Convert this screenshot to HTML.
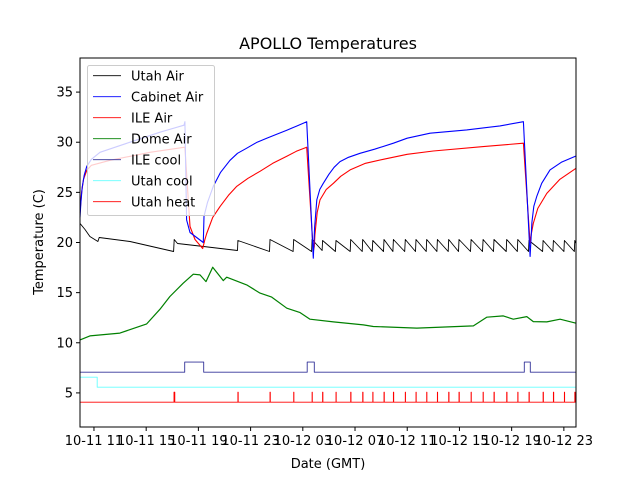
<!DOCTYPE html>
<html><head><meta charset="utf-8"><style>
body{margin:0;background:#fff;}
svg{display:block;font-family:"DejaVu Sans","Liberation Sans",sans-serif;}
</style></head><body>
<svg id="chart" width="640" height="480">
<rect width="640" height="480" fill="#fff"/>
<text x="328" y="49" font-size="16" text-anchor="middle">APOLLO Temperatures</text>
<text transform="translate(43,242) rotate(-90)" font-size="13" text-anchor="middle">Temperature (C)</text>
<text x="328" y="468" font-size="13" text-anchor="middle">Date (GMT)</text>
<g id="series"></g>
<g id="axes"></g>
<g id="legend"></g>
</svg>
<script>
const xTickHours=[11,15,19,23,27,31,35,39,43,47];
const xTickLabels=["10-11 11","10-11 15","10-11 19","10-11 23","10-12 03","10-12 07","10-12 11","10-12 15","10-12 19","10-12 23"];
const yTicks=[5,10,15,20,25,30,35];
const utahAirT=[9.93,10.31,10.69,11.3,11.4,13.76,17.1,17.15,17.4,19.4,22.0,22.03,24.45,24.49,26.26,26.3,27.67,27.71,28.48,28.52,29.5,29.54,30.63,30.67,31.55,31.59,32.32,32.36,33.18,33.22,33.9,33.94,34.81,34.85,35.63,35.67,36.45,36.49,37.27,37.31,38.14,38.18,38.93,38.97,39.85,39.89,40.77,40.81,41.61,41.65,42.58,42.62,43.43,43.47,44.29,44.33,45.37,45.41,46.16,46.2,47.0,47.04,47.8,47.84,47.93];
const utahAirV=[21.9,21.3,20.6,20.1,20.5,20.1,19.1,20.3,19.9,19.6,19.2,20.2,19.1,20.3,19.1,20.3,19.1,20.3,19.2,20.2,19.1,20.2,19.1,20.3,19.1,20.3,19.1,20.2,19.1,20.3,19.1,20.3,19.1,20.3,19.1,20.3,19.1,20.3,19.1,20.3,19.1,20.3,19.1,20.3,19.1,20.3,19.1,20.3,19.1,20.3,19.1,20.3,19.1,20.3,19.1,20.2,19.1,20.2,19.1,20.2,19.1,20.2,19.1,20.2,19.9];
const cabinetT=[9.93,10.0,10.1,10.25,10.45,10.8,11.46,13.76,16.06,17.9,17.97,18.1,18.36,19.38,19.43,19.7,20.14,20.7,21.42,22.0,22.7,23.5,24.23,25.0,25.77,26.5,27.3,27.8,27.9,28.07,28.3,28.57,29.0,29.4,29.85,30.5,31.38,32.5,33.94,35.0,36.75,39.56,42.11,43.9,44.41,44.55,44.7,44.92,45.3,45.94,46.8,47.93];
const cabinetV=[22.5,24,25.5,26.7,27.6,28.3,29.0,30.0,31.0,31.7,32.05,22.25,21.0,20.0,22.6,24.0,25.6,27.0,28.2,28.9,29.4,30.0,30.4,30.8,31.2,31.6,32.05,18.43,21.5,24.25,25.3,25.9,26.8,27.5,28.07,28.5,28.9,29.3,29.9,30.4,30.9,31.23,31.63,32.05,18.6,22.0,23.6,24.58,25.9,27.24,28.0,28.63];
const ileAirT=[9.93,10.05,10.2,10.45,10.8,12.23,15.29,17.97,18.36,18.74,19.33,19.5,19.64,20.1,20.66,21.3,21.94,22.8,23.72,24.7,25.77,26.5,27.3,27.8,27.88,27.93,28.1,28.32,28.8,29.34,29.9,30.62,31.8,33.17,35.0,37.0,40.83,43.9,44.41,44.5,44.66,45.0,45.69,46.7,47.93];
const ileAirV=[23,25,26.3,27.2,27.7,28.2,29,29.5,21.6,20.3,19.4,20.3,20.9,22.5,23.6,24.7,25.6,26.4,27.1,27.9,28.6,29.1,29.5,19.1,19.6,20.76,23.0,24.25,25.3,25.9,26.6,27.24,27.9,28.3,28.8,29.13,29.56,29.9,19.93,20.8,21.9,23.4,24.9,26.3,27.4];
const domeT=[9.93,10.69,12.99,15.04,16.06,16.82,17.84,18.61,19.12,19.58,20.10,20.91,21.17,22.70,23.72,24.62,25.77,26.79,27.55,29.34,31.64,32.40,35.73,40.07,41.09,42.36,43.13,44.16,44.66,45.69,46.71,47.93];
const domeV=[10.29,10.69,10.96,11.88,13.35,14.61,15.94,16.84,16.77,16.10,17.54,16.20,16.54,15.77,14.95,14.55,13.45,13.01,12.35,12.08,11.78,11.62,11.46,11.68,12.55,12.68,12.35,12.61,12.11,12.08,12.35,11.95];
const ileCoolOn=[[17.95,19.41],[27.34,27.88],[43.97,44.43]];
const ileCoolLow=7.07, ileCoolHigh=8.07;
const utahCoolStep=11.25, utahCoolBefore=6.57, utahCoolAfter=5.57;
const utahHeatSpikes=[17.13,17.17,22.03,24.49,26.3,27.71,28.52,29.54,30.67,31.59,32.36,33.22,33.94,34.85,35.67,36.49,37.31,38.18,38.97,39.89,40.81,41.65,42.62,43.47,44.33,45.41,46.2,47.04,47.84];
const utahHeatLow=4.07, utahHeatHigh=5.07;

const L=80,R=576,T=58,B=427;
const xMin=9.93,xMax=47.93,yMin=1.6,yMax=38.4;
const X=h=>L+(h-xMin)/(xMax-xMin)*(R-L);
const Y=v=>B-(v-yMin)/(yMax-yMin)*(B-T);
const NS="http://www.w3.org/2000/svg";
function mk(tag,attrs,parent){const e=document.createElementNS(NS,tag);for(const k in attrs)e.setAttribute(k,attrs[k]);parent.appendChild(e);return e;}
const sg=document.getElementById('series');
function line(ts,vs,color,name,w){
  const pts=ts.map((t,i)=>X(t).toFixed(1)+','+Y(vs[i]).toFixed(1)).join(' ');
  const p=mk('polyline',{points:pts,fill:'none',stroke:color,'stroke-width':w||0.9,'stroke-linejoin':'round'},sg);
  
  
}
line(utahAirT,utahAirV,'#000','utah-air-line');
line(domeT,domeV,'#008000','dome-air-line',1.2);
line(ileAirT,ileAirV,'#ff0000','ile-air-line',1.1);
line(cabinetT,cabinetV,'#0000ff','cabinet-air-line',1.1);
{let ts=[xMin],vs=[ileCoolLow];ileCoolOn.forEach(([a,b])=>{ts.push(a,a,b,b);vs.push(ileCoolLow,ileCoolHigh,ileCoolHigh,ileCoolLow);});ts.push(xMax);vs.push(ileCoolLow);line(ts,vs,'#333399','ile-cool-line');}
line([xMin,utahCoolStep,utahCoolStep,xMax],[utahCoolBefore,utahCoolBefore,utahCoolAfter,utahCoolAfter],'#66ffff','utah-cool-line');
{let ts=[xMin],vs=[utahHeatLow];utahHeatSpikes.forEach(s=>{ts.push(s,s,s+0.02,s+0.02);vs.push(utahHeatLow,utahHeatHigh,utahHeatHigh,utahHeatLow);});ts.push(xMax);vs.push(utahHeatLow);line(ts,vs,'#ff0000','utah-heat-line');}

const ag=document.getElementById('axes');
const fr=mk('rect',{x:L,y:T,width:R-L,height:B-T,fill:'none',stroke:'#000','stroke-width':1},ag);


xTickHours.forEach((h,i)=>{
  mk('line',{x1:X(h),x2:X(h),y1:B,y2:B+4,stroke:'#000'},ag);
  const t=mk('text',{x:X(h),y:B+18,'font-size':13,'text-anchor':'middle'},ag);
  t.textContent=xTickLabels[i];
  
  
});
yTicks.forEach(v=>{
  mk('line',{x1:L-4,x2:L,y1:Y(v),y2:Y(v),stroke:'#000'},ag);
  const t=mk('text',{x:L-7,y:Y(v)+4.5,'font-size':13,'text-anchor':'end'},ag);
  t.textContent=v;
  
  
});

const lg=document.getElementById('legend');


mk('rect',{x:87.5,y:65.5,width:127,height:150,rx:2,fill:'#fff','fill-opacity':0.8,stroke:'#ccc'},lg);
const legNames=["Utah Air","Cabinet Air","ILE Air","Dome Air","ILE cool","Utah cool","Utah heat"];
const legColors=['#000','#0000ff','#ff0000','#008000','#333399','#66ffff','#ff0000'];
legNames.forEach((n,i)=>{
  const y=75.7+i*21;
  mk('line',{x1:93,x2:121,y1:y,y2:y,stroke:legColors[i],'stroke-width':0.9},lg);
  const t=mk('text',{x:131,y:y+5,'font-size':13},lg);
  t.textContent=n;
  
  
});
</script>
</body></html>
